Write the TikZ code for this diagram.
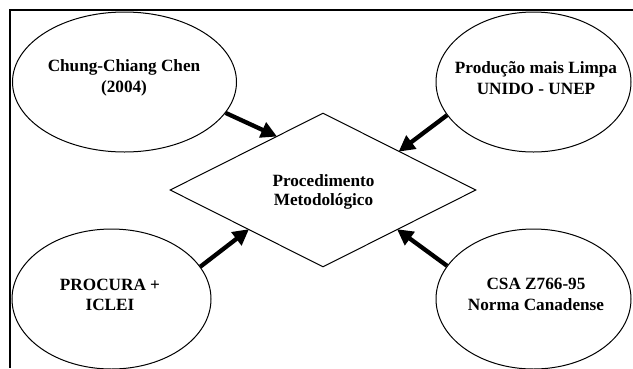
\documentclass[tikz,border=0pt]{standalone}
\usepackage{fontspec}
\setmainfont{Liberation Serif}
\usetikzlibrary{shapes.geometric,arrows.meta}
\tikzset{
  src/.style={draw, ellipse, line width=1pt, inner sep=0pt},
  lbl/.style={align=center, font=\fontsize{17.2}{20.5}\selectfont\bfseries, inner sep=0pt},
  flow/.style={line width=4.3pt, -{Triangle[length=16pt,width=16pt]}, shorten >=-1pt}
}
\begin{document}
\begin{tikzpicture}[x=1pt,y=-1pt]
\useasboundingbox (0,0) rectangle (633,368);
% frame (only top and left edge visible)
\draw[line width=2pt] (633,10) -- (9.5,10) -- (9.5,368);
% ellipses
\node[src, minimum width=224pt, minimum height=140pt] (c1) at (124.5,82) {};
\node[src, minimum width=195pt, minimum height=140pt] (c2) at (533.5,82) {};
\node[src, minimum width=199pt, minimum height=140pt] (c3) at (111.5,299) {};
\node[src, minimum width=195pt, minimum height=140pt] (c4) at (533.5,299) {};
% diamond
\node[draw, diamond, line width=1pt, inner sep=0pt, minimum width=306pt, minimum height=154pt] (d) at (323,190) {};
% texts
\node[lbl] (t1) at (124,78) {Chung-Chiang Chen\\(2004)};
\node[lbl] (t2) at (536,78) {Produção mais Limpa\\UNIDO - UNEP};
\node[lbl] (t3) at (110,295) {PROCURA +\\ICLEI};
\node[lbl] (t4) at (536,294.5) {CSA Z766-95\\Norma Canadense};
\node[lbl, font=\fontsize{17.2}{18.5}\selectfont\bfseries] (td) at (323.5,192) {Procedimento\\Metodológico};
% arrows
\draw[flow] (c1.-17.5) -- (d.131.5);
\draw[flow] (c2.201.6) -- (d.27.5);
\draw[flow] (c3.20.5) -- (d.208.1);
\draw[flow] (c4.159) -- (d.-28.1);
\end{tikzpicture}
\end{document}
